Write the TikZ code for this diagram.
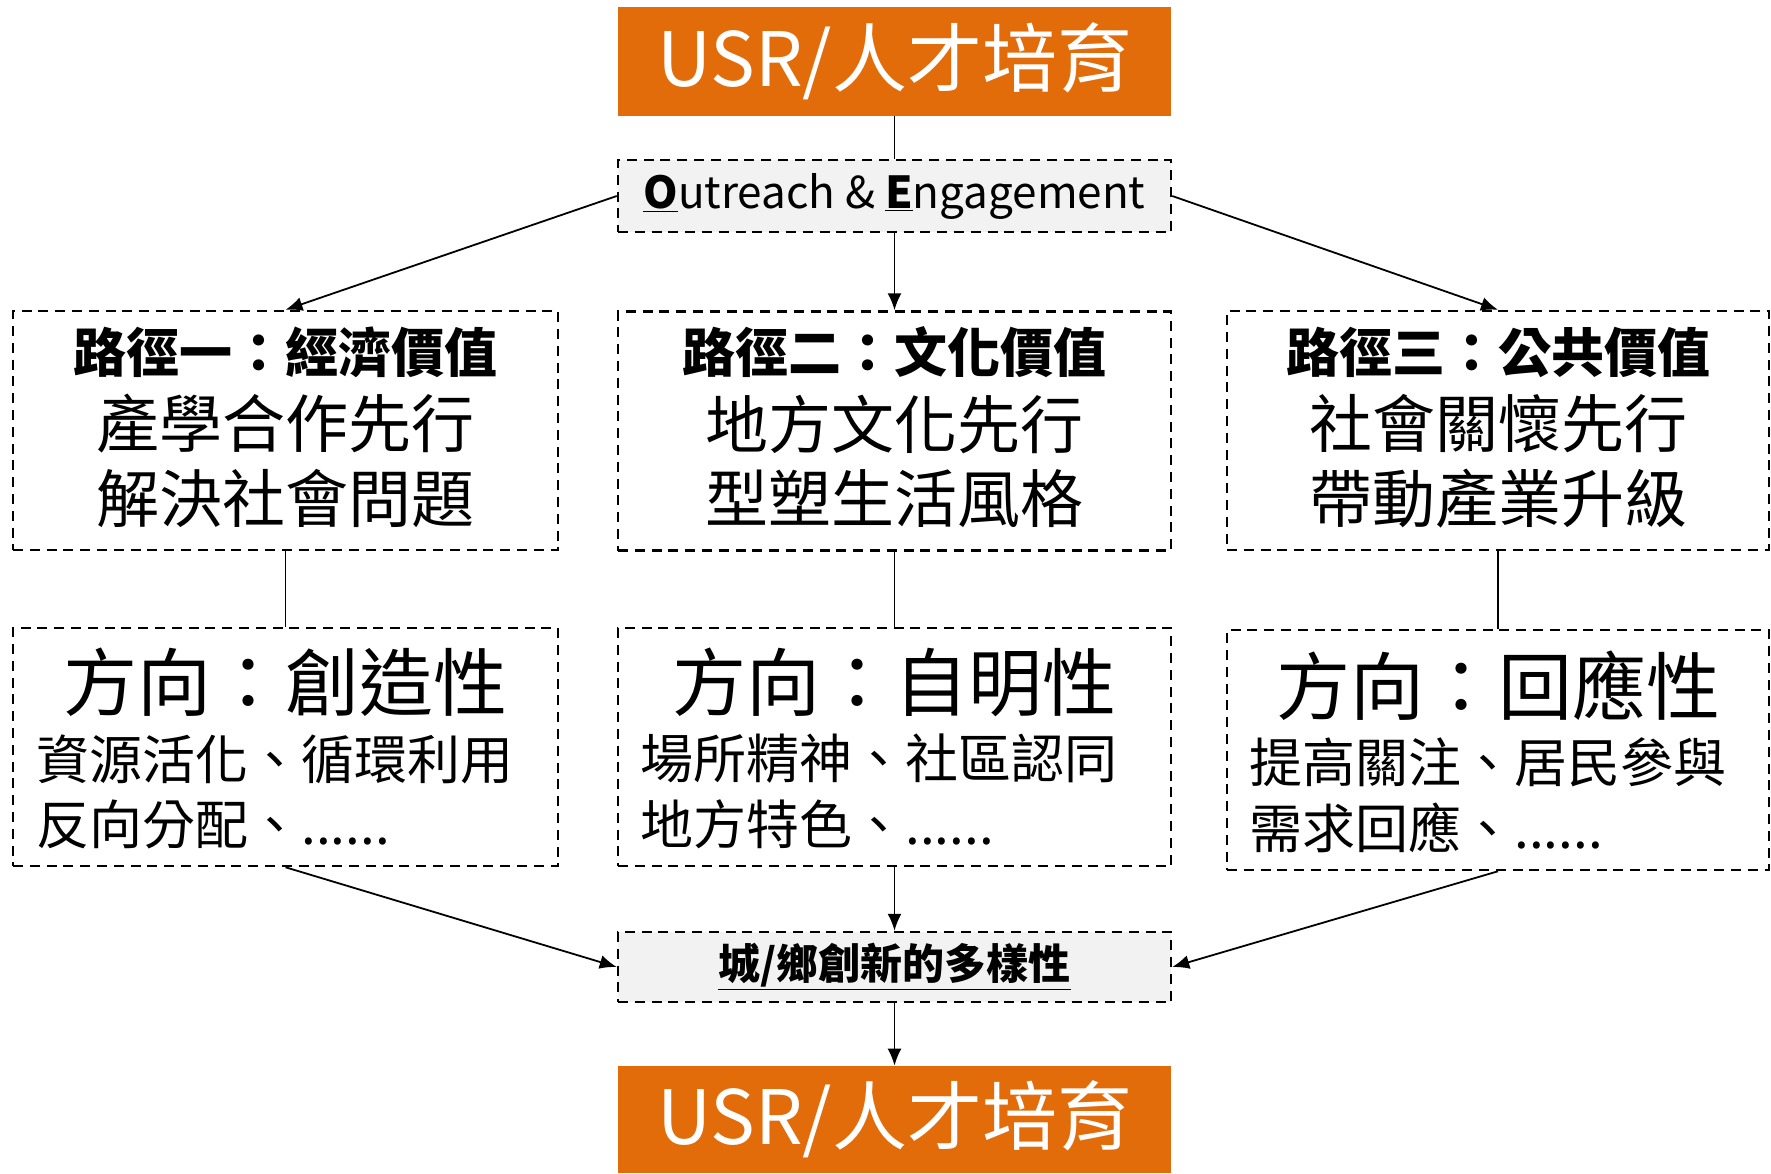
\documentclass[tikz,border=0pt]{standalone}
\usepackage{fontspec}
\setmainfont{Noto Sans CJK TC}
\usetikzlibrary{arrows.meta}
\definecolor{usrorange}{HTML}{E36C0A}
\definecolor{lightfill}{HTML}{F2F2F2}
\begin{document}
\begin{tikzpicture}[x=0.5pt,y=-0.5pt,
  orangebox/.style={fill=usrorange, draw=none, minimum width=276.5pt, minimum height=54.5pt, inner sep=0pt, text=white, font=\fontsize{37.5}{40}\selectfont},
  dbox/.style={draw=black, dash pattern=on 5pt off 3.4pt, line width=1.25pt, inner sep=0pt},
  graybox/.style={dbox, fill=lightfill},
  conn/.style={line width=0.9pt, black},
  arr/.style={conn, -{Latex[length=8.5pt,width=7pt]}},
  hfont/.style={inner sep=0pt, font=\fontsize{26.5}{30}\selectfont\bfseries},
  lfont/.style={inner sep=0pt, font=\fontsize{31.5}{35}\selectfont},
  tfont/.style={inner sep=0pt, font=\fontsize{37}{40}\selectfont},
  sfont/.style={inner sep=0pt, anchor=west, font=\fontsize{26.5}{30}\selectfont},
]
\useasboundingbox (0,0) rectangle (1771,1173);

% top and outreach
\node[orangebox] (top) at (894.5,61.5) {USR/人才培育};
\node[graybox, minimum width=276.5pt, minimum height=36pt, font=\fontsize{22}{26}\selectfont] (out) at (894.5,196) {\underline{\textbf{O}}utreach \& \underline{\textbf{E}}ngagement};

% path boxes
\node[dbox, minimum width=272.5pt, minimum height=119.5pt] (p1) at (285.5,430.5) {};
\node[dbox, minimum width=276.5pt, minimum height=119.5pt] (p2) at (894.5,431) {};
\node[dbox, minimum width=271pt, minimum height=119.5pt] (p3) at (1498,430.5) {};

\node[hfont] (p1a) at (285.5,352) {路徑一：經濟價值};
\node[lfont] (p1b) at (285.5,424) {產學合作先行};
\node[lfont] (p1c) at (285.5,499) {解決社會問題};

\node[hfont] (p2a) at (894.5,352) {路徑二：文化價值};
\node[lfont] (p2b) at (894.5,424) {地方文化先行};
\node[lfont] (p2c) at (894.5,499) {型塑生活風格};

\node[hfont] (p3a) at (1498,352) {路徑三：公共價值};
\node[lfont] (p3b) at (1498,424) {社會關懷先行};
\node[lfont] (p3c) at (1498,499) {帶動產業升級};

% direction boxes
\node[dbox, minimum width=272.5pt, minimum height=119pt] (d1) at (285.5,747) {};
\node[dbox, minimum width=276.5pt, minimum height=119pt] (d2) at (894.5,747) {};
\node[dbox, minimum width=271pt, minimum height=120pt] (d3) at (1498,750) {};

\node[tfont] (d1a) at (285.5,682) {方向：創造性};
\node[sfont] (d1b) at (36,759) {資源活化、循環利用};
\node[sfont] (d1c) at (36,824) {反向分配、......};

\node[tfont] (d2a) at (894.5,682) {方向：自明性};
\node[sfont] (d2b) at (640,759) {場所精神、社區認同};
\node[sfont] (d2c) at (640,824) {地方特色、......};

\node[tfont] (d3a) at (1498,686) {方向：回應性};
\node[sfont] (d3b) at (1249,762) {提高關注、居民參與};
\node[sfont] (d3c) at (1249,828) {需求回應、......};

% diversity and bottom
\node[graybox, minimum width=276.5pt, minimum height=35pt, font=\fontsize{21}{25}\selectfont\bfseries] (div) at (894.5,967) {\underline{城/鄉創新的多樣性}};
\node[orangebox, minimum height=53.5pt] (bot) at (894.5,1119.5) {USR/人才培育};

% connectors
\draw[conn] (top.south) -- (out.north);
\draw[arr] (out.west) -- (p1.north);
\draw[arr] (out.south) -- (p2.north);
\draw[arr] (out.east) -- (p3.north);
\draw[conn] (p1.south) -- (d1.north);
\draw[conn] (p2.south) -- (d2.north);
\draw[conn] (p3.south) -- (d3.north);
\draw[arr] (d1.south) -- (div.west);
\draw[arr] (d2.south) -- (div.north);
\draw[arr] (d3.south) -- (div.east);
\draw[arr] (div.south) -- (bot.north);
\end{tikzpicture}
\end{document}
